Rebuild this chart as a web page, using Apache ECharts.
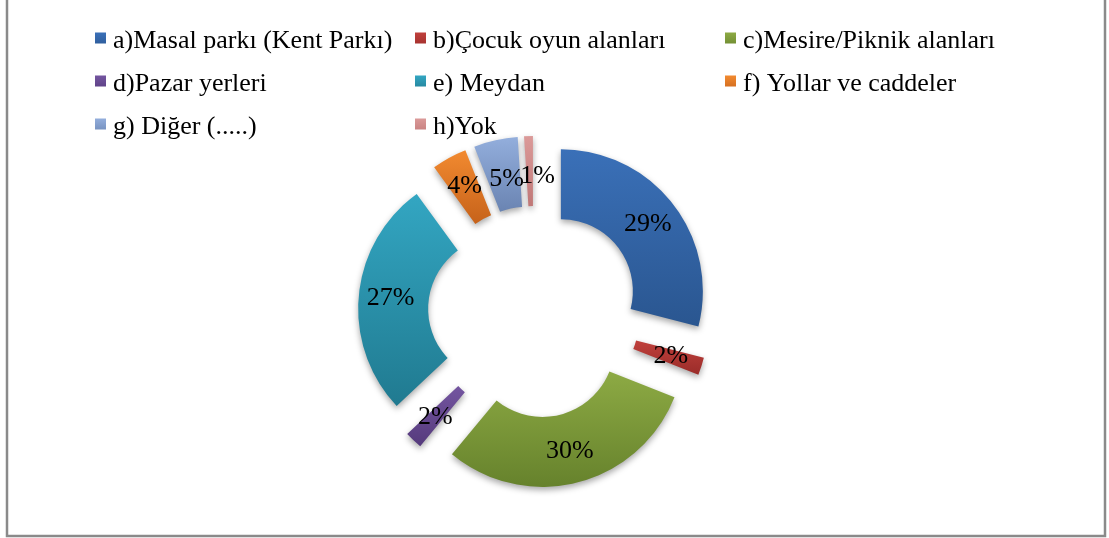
<!DOCTYPE html>
<html>
<head>
<meta charset="utf-8">
<script src="https://cdn.jsdelivr.net/npm/echarts@6/dist/echarts.min.js"></script>
<style>
html,body{margin:0;padding:0;background:#fff;}
#c{width:1109px;height:538px;}
</style>
</head>
<body>
<div id="c"></div>
<script>
const categories = ['a)Masal parkı (Kent Parkı)', 'b)Çocuk oyun alanları', 'c)Mesire/Piknik alanları', 'd)Pazar yerleri', 'e) Meydan', 'f) Yollar ve caddeler', 'g) Diğer (.....)', 'h)Yok'];
const values = [29, 2, 30, 2, 27, 4, 5, 1];
const topColors = ['#3A70B8', '#C0403C', '#8DAA44', '#7455A0', '#33A6C2', '#F28A30', '#93AEDC', '#DB9A99'];
const bottomColors = ['#2A5690', '#9A2C29', '#66822C', '#553A7C', '#207A90', '#C6621A', '#6A84B2', '#C07877'];

function grad(i) {
  return new echarts.graphic.LinearGradient(0, 0, 0, 1, [
    { offset: 0, color: topColors[i] },
    { offset: 1, color: bottomColors[i] }
  ]);
}

const labelShift = { 6: [4, 8], 7: [8, 8] };
const data = categories.map((name, i) => ({
  name: name,
  value: values[i],
  selected: true,
  itemStyle: { color: grad(i) }
}));

const legendText = { fontFamily: 'Liberation Serif', fontSize: 26, color: '#000', lineHeight: 28, padding: [0, 0, 0, 2] };
function legendCol(left, names) {
  return {
    orient: 'vertical', left: left, top: 27, itemGap: 15, padding: 0,
    itemWidth: 11, itemHeight: 17, icon: 'path://M0,0L11,0L11,11L0,11Z M0,17L11,17L11,17Z',
    selectedMode: false,
    textStyle: legendText,
    data: names
  };
}

const chart = echarts.init(document.getElementById('c'), null, { renderer: 'canvas' });
chart.setOption({
  backgroundColor: '#fff',
  animation: false,
  legend: [
    legendCol(95, [categories[0], categories[3], categories[6]]),
    legendCol(415, [categories[1], categories[4], categories[7]]),
    legendCol(725, [categories[2], categories[5]])
  ],
  graphic: [{
    type: 'rect', silent: true,
    shape: { x: 7, y: -5, width: 1098, height: 541 },
    style: { fill: 'none', stroke: '#8a8a8a', lineWidth: 2.5 }
  }],
  series: [{
    type: 'pie',
    center: [534, 312],
    radius: [72, 142],
    startAngle: 90,
    clockwise: true,
    selectedMode: 'multiple',
    selectedOffset: 34,
    avoidLabelOverlap: false,
    labelLayout: p => {
      const s = labelShift[p.dataIndex];
      return s ? { hideOverlap: false, dx: s[0], dy: s[1] } : { hideOverlap: false };
    },
    itemStyle: { shadowBlur: 6, shadowColor: 'rgba(0,0,0,0.35)', shadowOffsetY: 3 },
    label: {
      show: true, position: 'inside',
      formatter: p => Math.round(p.percent) + '%',
      fontFamily: 'Liberation Serif', fontSize: 26, color: '#000'
    },
    labelLine: { show: false },
    emphasis: { disabled: true },
    data: data
  }]
});
</script>
</body>
</html>
